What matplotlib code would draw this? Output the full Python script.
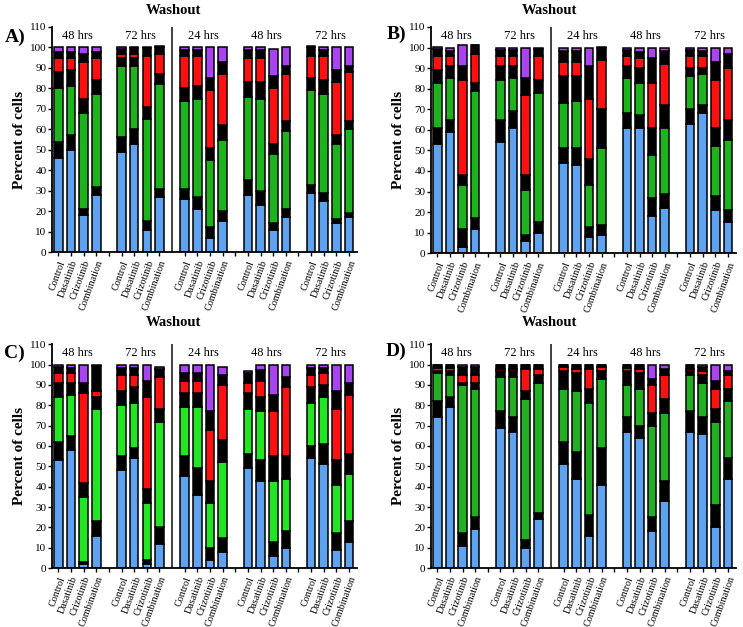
import matplotlib
matplotlib.use("Agg")
import matplotlib.pyplot as plt
import numpy as np

plt.rcParams['font.family'] = ['Liberation Serif', 'DejaVu Serif']

# Bar order inside every group and group labels
treatments = ["Control", "Dasatinib", "Crizotinib", "Combination"]
group_labels = ["48 hrs", "72 hrs", "24 hrs", "48 hrs", "72 hrs"]

# Segment order from bottom to top of each stacked bar
segment_names = ["blue", "black1", "green", "black2", "red", "black3", "purple"]

# One row per bar (5 groups x 4 treatments), columns as in segment_names
panel_a = [
    [46, 8, 26, 8, 7, 3, 2], [50, 7, 24, 8, 6, 3, 2], [18, 3, 47, 7, 18, 4, 3], [28, 4, 45, 7, 11, 3, 2],
    [49, 7, 35, 4, 2, 2, 1], [53, 7, 31, 4, 2, 2.5, 0.5], [11, 4, 50, 6, 25, 3.5, 0.5], [27, 4, 51, 5, 10, 3, 0.5],
    [26, 5, 43, 6, 16, 2.5, 1.5], [21, 6, 48, 6, 15, 2.5, 1.5], [7, 5, 33, 6, 28, 6, 15], [15, 5, 35, 7, 25, 6, 7],
    [28, 7, 41, 7, 12, 3.5, 1.5], [23, 7, 45, 8, 12, 3.5, 1.5], [11, 3, 34, 5, 27, 6, 13], [17, 4, 38, 5, 23, 4, 9],
    [29, 4, 46, 6, 11, 4, 0.5], [25, 4, 48, 7, 12, 2.5, 1.5], [14, 2, 37, 4, 26, 6, 11], [17, 2, 41, 4, 24, 3, 9],
]
panel_b = [
    [53, 8, 22, 6, 7, 3.5, 1], [59, 6, 20, 6, 5, 2.5, 1.5], [3, 9, 21, 5, 46, 7, 10], [12, 5, 62, 4, 14, 4, 0.3],
    [54, 11, 19, 7, 5, 3, 1], [61, 8, 16, 6, 5, 3, 1], [6, 3, 22, 7, 39, 8, 15], [10, 5, 63, 6, 12, 3.5, 0.5],
    [44, 7, 22, 13, 7, 5.5, 1.5], [43, 8, 23, 12, 7, 5.5, 1.5], [8, 5, 20, 13, 29, 16, 9], [9, 5, 37, 19, 24, 6, 0.3],
    [61, 7, 17, 6, 5, 3, 1], [61, 6, 16, 7, 5, 3, 2], [18, 9, 21, 13, 22, 12, 5], [22, 7, 32, 11, 20, 6.5, 1.5],
    [63, 7, 16, 4, 6, 3, 1], [68, 4, 15, 3, 6, 2.5, 1.5], [21, 7, 24, 9, 23, 9, 7], [15, 6, 34, 10, 25, 7, 3],
]
panel_c = [
    [53, 9, 22, 7, 5, 3, 1], [58, 7, 20, 6, 5, 2.5, 1.5], [2, 1, 32, 7, 44, 5, 9], [16, 7, 55, 6, 3, 12.5, 0.5],
    [48, 7, 25, 7, 8, 3.5, 1.5], [54, 5, 22, 8, 6, 3.5, 1.5], [2, 2, 28, 7, 45, 8, 8], [12, 8, 52, 6, 16, 4, 1],
    [45, 10, 24, 7, 6, 4, 4], [36, 13, 30, 7, 6, 4, 4], [4, 6, 22, 11, 25, 9, 23], [8, 7, 37, 11, 27, 5, 4],
    [49, 7, 22, 8, 5, 5, 1], [43, 10, 24, 7, 8, 5.5, 2.5], [6, 7, 30, 12, 22, 8, 15], [10, 8, 26, 11, 34, 5, 6],
    [54, 6, 21, 8, 6, 3.5, 1.5], [51, 10, 23, 6, 6, 2.5, 1.5], [9, 8, 24, 12, 25, 9, 13], [13, 10, 23, 10, 29, 6, 9],
]
panel_d = [
    [74, 8, 14, 1, 1.5, 1.5, 0], [79, 5, 11, 2, 1.5, 1.5, 0], [11, 6, 73, 1, 4, 4, 1], [19, 6, 63, 3, 4, 4, 1],
    [69, 8, 17, 3, 1, 2, 0], [67, 7, 20, 3, 1, 2, 0], [10, 4, 69, 4, 11, 2, 0], [24, 3, 64, 4, 3, 2, 0],
    [51, 11, 26, 9, 2, 1, 0], [44, 13, 30, 9, 2, 2, 0], [16, 10, 55, 7, 10, 2, 0], [41, 18, 34, 4, 2, 1, 0],
    [67, 7, 16, 7, 1.5, 1.5, 0], [64, 6, 18, 8, 2, 2, 0], [18, 7, 45, 6, 14, 3, 7], [33, 10, 33, 7, 12, 3, 2],
    [67, 10, 18, 2, 1, 2, 0], [66, 8, 17, 4, 2, 2, 1], [20, 11, 41, 6, 10, 4, 8], [44, 10, 28, 6, 7, 2, 3],
]

panels = [
    ("A)", panel_a, [0.070, 0.598, 0.410, 0.359], (0.233, 0.983), (0.020, 0.940), '#1db31d'),
    ("B)", panel_b, [0.580, 0.596, 0.410, 0.361], (0.740, 0.983), (0.533, 0.945), '#1db31d'),
    ("C)", panel_c, [0.070, 0.094, 0.410, 0.357], (0.233, 0.486), (0.020, 0.437), '#22e622'),
    ("D)", panel_d, [0.580, 0.094, 0.410, 0.357], (0.740, 0.486), (0.533, 0.439), '#22b022'),
]

blue = '#5ea2f0'
red = '#ff1010'
purple = '#a844f0'

fig = plt.figure(figsize=(7.43, 6.27), dpi=100)

# bar positions: groups of 4 with one empty slot between groups
x = np.array([g * 5 + i for g in range(5) for i in range(4)])
gap_ticks = [4, 14, 19]

for letter, data, rect, wash_pos, letter_pos, green in panels:
    ax = fig.add_axes(rect)
    data = np.array(data, dtype=float)
    colors = [blue, 'black', green, 'black', red, 'black', purple]
    bottom = np.zeros(len(x))
    for k, name in enumerate(segment_names):
        ax.bar(x, data[:, k], bottom=bottom, width=0.68, color=colors[k],
               edgecolor='black', linewidth=1.1)
        bottom += data[:, k]

    # divider between the two experiments
    ax.axvline(9, ymin=0, ymax=1, color='#333333', linewidth=1.3)

    for g, lab in enumerate(group_labels):
        ax.text(g * 5 + 1.5, 105.5, lab, ha='center', va='center', fontsize=9)

    ax.set_xlim(-0.5, 23.6)
    ax.set_ylim(0, 110)
    ax.set_yticks(range(0, 111, 10))
    ax.set_xticks(x)
    ax.set_xticklabels(treatments * 5, rotation=70, ha='right',
                       rotation_mode='anchor', fontsize=7.3)
    ax.set_xticks(gap_ticks, minor=True)
    ax.tick_params(axis='x', which='both', length=3, width=1, pad=2)
    ax.tick_params(axis='y', length=3, width=1, labelsize=8, pad=1)
    for s in ['top', 'right']:
        ax.spines[s].set_visible(False)
    for s in ['left', 'bottom']:
        ax.spines[s].set_linewidth(1.3)
    ax.set_ylabel("Percent of cells", fontsize=11, fontweight='bold', labelpad=3)

    fig.text(wash_pos[0], wash_pos[1], "Washout", ha='center', va='center',
             fontsize=10.5, fontweight='bold')
    fig.text(letter_pos[0], letter_pos[1], letter, ha='center', va='center',
             fontsize=14, fontweight='bold')

fig.savefig("out.png", dpi=100)
